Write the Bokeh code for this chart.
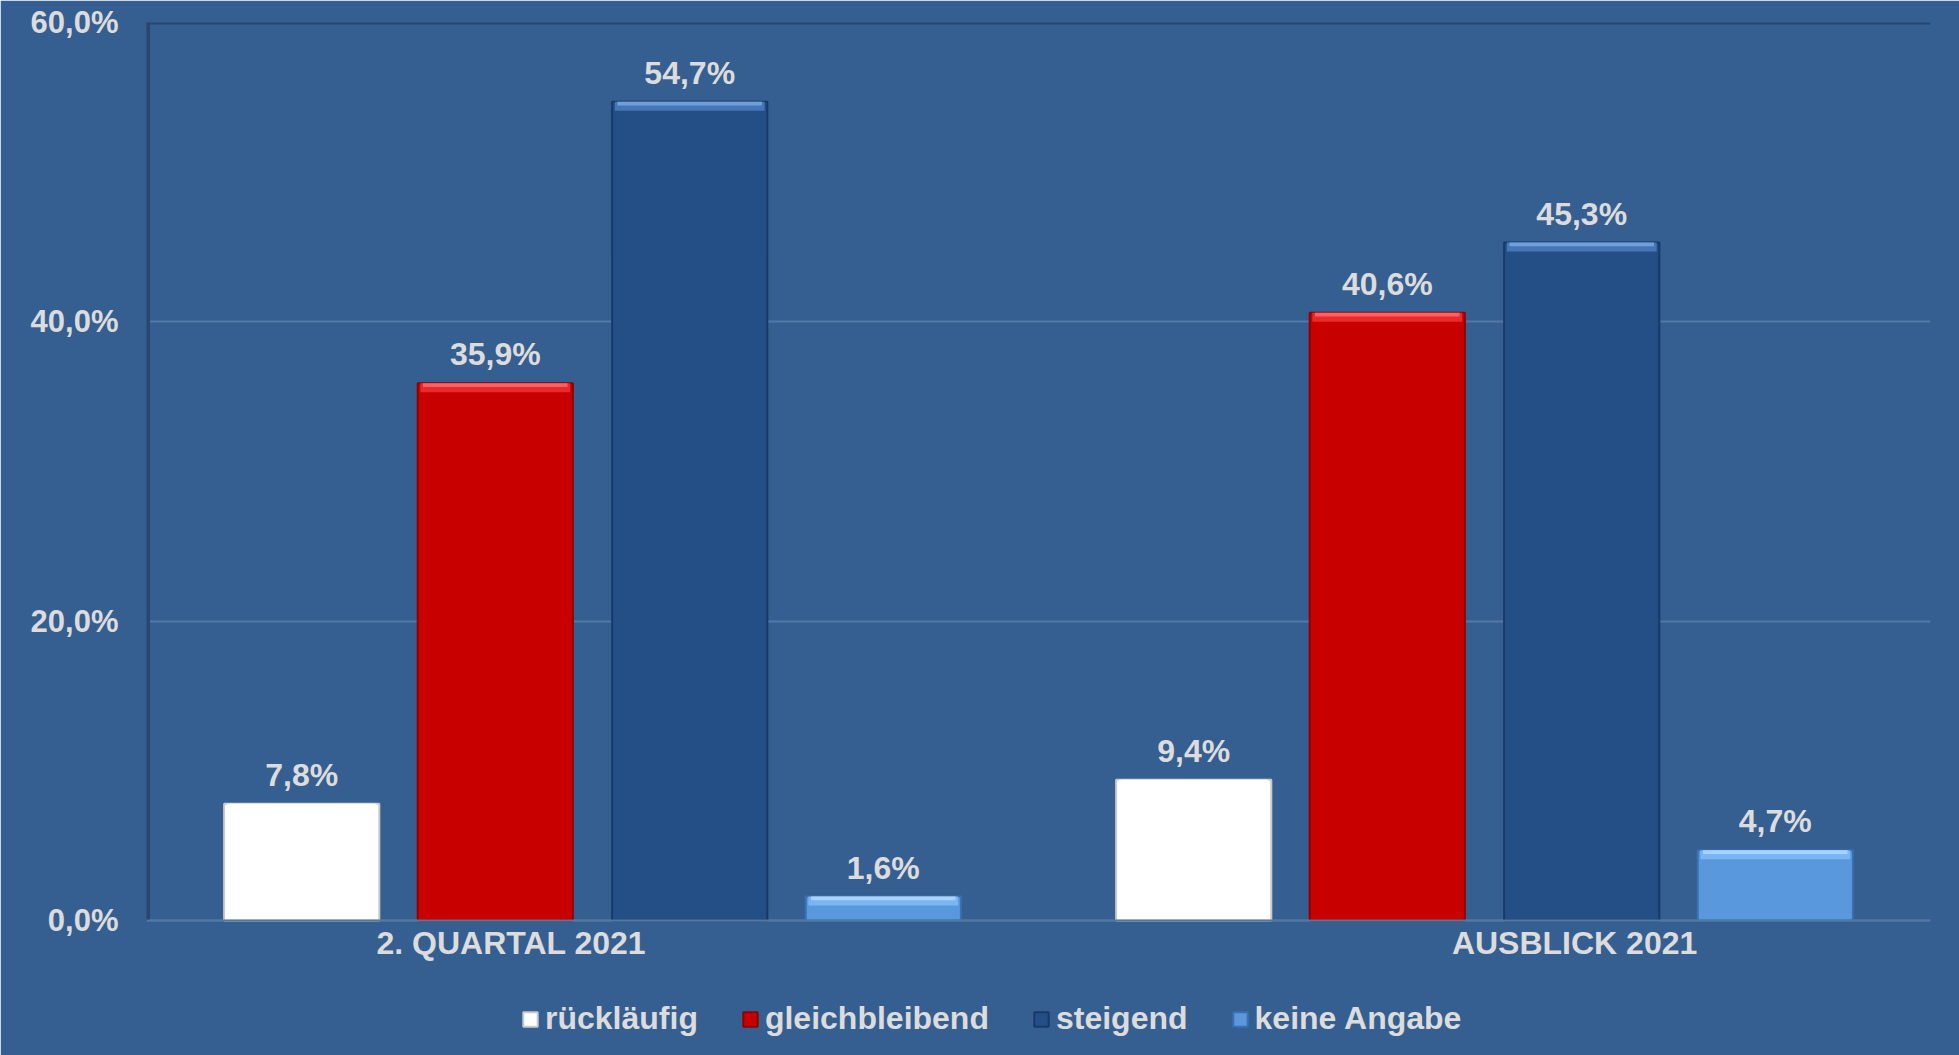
from bokeh.plotting import figure
from bokeh.models import ColumnDataSource, FixedTicker, Legend, LegendItem, Span, Range1d
from bokeh.embed import file_html
from bokeh.resources import INLINE
from bokeh.core.properties import value

# ---- data ----
categories = ["2. QUARTAL 2021", "AUSBLICK 2021"]
series_names = ["rückläufig", "gleichbleibend", "steigend", "keine Angabe"]
ruecklaeufig = [7.8, 9.4]
gleichbleibend = [35.9, 40.6]
steigend = [54.7, 45.3]
keine_angabe = [1.6, 4.7]
y_ticks = [0, 20, 40, 60]
y_tick_labels = ["0,0%", "20,0%", "40,0%", "60,0%"]

series_values = [ruecklaeufig, gleichbleibend, steigend, keine_angabe]

# ---- styling / layout ----
BG = "#365F91"
TXT = "#dcdcdc"
FONT = value("Liberation Sans")
fills = ["#ffffff", "#c80000", "#244f86", "#5a98de"]
edges = ["#c9c9c9", "#8f0000", "#183a66", "#3b6fae"]
highlights = ["#ffffff", "#e82a2a", "#4676b5", "#7ab6f3"]
highlights2 = ["#ffffff", "#ff6060", "#6f9fdc", "#a6d4ff"]
offsets = [-0.326, -0.109, 0.109, 0.326]
bar_w = 0.174
label_pos = [0.409, 1.601]

W, H = 1959, 1055
top_px, zero_px = 22, 920           # pixel rows of the 60 % line and the 0 % line
px_per_unit = (zero_px - top_px) / (y_ticks[-1] - y_ticks[0])
y_min = -(H - zero_px) / px_per_unit  # frame extends below zero to hold labels and legend

p = figure(width=W, height=H, output_backend="svg", toolbar_location=None,
           x_range=Range1d(0, 2), y_range=Range1d(y_min, y_ticks[-1]),
           min_border_left=146, min_border_right=29, min_border_top=top_px, min_border_bottom=0,
           background_fill_color=BG, border_fill_color=BG,
           outline_line_color=BG, outline_line_width=2)

items = []
for i, (name, vals) in enumerate(zip(series_names, series_values)):
    xs = [j + 0.5 + offsets[i] for j in range(len(categories))]
    src = ColumnDataSource(dict(
        x=xs, top=vals,
        hl_bottom=[max(v - 0.6, 0) for v in vals],
        hl2_bottom=[max(v - 0.25, 0) for v in vals],
        label=[f"{v:.1f}%".replace(".", ",") for v in vals],
    ))
    r = p.vbar(x="x", top="top", bottom=0, width=bar_w, source=src,
               fill_color=fills[i], line_color=edges[i], line_width=2)
    p.vbar(x="x", top="top", bottom="hl_bottom", width=bar_w - 0.006, source=src,
           fill_color=highlights[i], line_color=None)
    p.vbar(x="x", top="top", bottom="hl2_bottom", width=bar_w - 0.012, source=src,
           fill_color=highlights2[i], line_color=None)
    p.text(x="x", y="top", text="label", source=src, text_align="center",
           text_baseline="alphabetic", y_offset=-29, text_font=FONT,
           text_font_style="bold", text_font_size="32px", text_color=TXT)
    items.append(LegendItem(label=name, renderers=[r]))

# category labels under the zero line
p.text(x=label_pos, y=[y_ticks[0]] * len(categories), text=categories, text_align="center",
       text_baseline="middle", y_offset=22, text_font=FONT, text_font_style="bold",
       text_font_size="32px", text_color=TXT)

# y axis
p.yaxis.ticker = FixedTicker(ticks=y_ticks)
p.yaxis.major_label_overrides = {t: l for t, l in zip(y_ticks, y_tick_labels)}
p.yaxis.major_tick_line_color = None
p.yaxis.minor_tick_line_color = None
p.yaxis.major_tick_out = 0
p.yaxis.major_label_standoff = 28
p.yaxis.axis_line_color = None
p.yaxis.major_label_text_font = "Liberation Sans"
p.yaxis.major_label_text_font_style = "bold"
p.yaxis.major_label_text_font_size = "31px"
p.yaxis.major_label_text_color = TXT
p.xaxis.visible = False

p.xgrid.grid_line_color = None
p.ygrid.grid_line_color = "#5079a8"
p.ygrid.grid_line_width = 2

# plot-area borders
p.segment(x0=[p.x_range.start], y0=[y_ticks[0]], x1=[p.x_range.start], y1=[y_ticks[-1]],
          line_color="#27476f", line_width=7)
p.add_layout(Span(location=y_ticks[-1], dimension="width", line_color="#27476f", line_width=4))
p.add_layout(Span(location=y_ticks[0], dimension="width", line_color="#52799f", line_width=2))

legend = Legend(items=items, location=(375, 18), orientation="horizontal",
                border_line_color=None, background_fill_alpha=0,
                label_text_font="Liberation Sans", label_text_font_style="bold",
                label_text_font_size="32px", label_text_color=TXT,
                glyph_width=18, glyph_height=18, label_standoff=6, spacing=43,
                padding=0, margin=0)
p.add_layout(legend)

open("out.html", "w").write(file_html(p, INLINE))
